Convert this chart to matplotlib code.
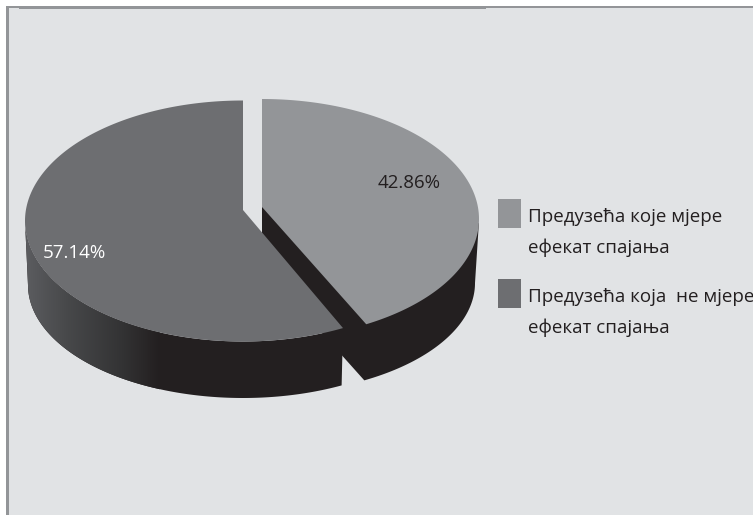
import numpy as np
import matplotlib
matplotlib.use('Agg')
import matplotlib.pyplot as plt
from matplotlib.colors import LinearSegmentedColormap
from matplotlib.patches import Polygon, Rectangle

# --- Data ---
legend_lines = [["Предузећа које мјере", "ефекат спајања"],
                ["Предузећа која  не мјере", "ефекат спајања"]]
shares = [42.86, 57.14]

LIGHT = '#939598'
DARK = '#6d6e71'
BLACK = '#231f20'
BG = '#e1e3e5'
FRAME = '#939598'
FONT_SIZE = 13.5

plt.rcParams['font.family'] = ['Open Sans', 'DejaVu Sans']


# points on an ellipse, angle runs clockwise from the top
def arc(cx, cy, rx, ry, a0, a1, n=200):
    t = np.radians(np.linspace(a0, a1, n))
    return np.column_stack([cx + rx * np.sin(t), cy - ry * np.cos(t)])


cut = shares[0] * 3.6

# the picture is in perspective, so the cut lands a bit off the true angle
cut_dark = cut - 1.6
cut_light = cut - 3.0

# pixel axes, same size as the picture
fig = plt.figure(figsize=(7.53, 5.15), dpi=100, facecolor='white')
ax = fig.add_axes([0, 0, 1, 1])
ax.axis('off')

# --- Panel and frame ---
ax.add_patch(Rectangle((7, 7), 746, 508, fc=BG, ec='none'))
ax.add_patch(Rectangle((6.5, 6), 2.5, 509, fc=FRAME, ec='none'))
ax.add_patch(Rectangle((7, 6), 746, 1.6, fc=FRAME, ec='none'))
ax.add_patch(Rectangle((19, 6), 467, 3, fc=FRAME, ec='none'))

# --- Light slice: cut face and side wall in one piece, then the top ---
top_l = (262, 219, 217, 120)
bot_l = (262, 283, 213, 111)
under_l = np.vstack([[(262, 207)], arc(*top_l, 92, 92, 1), arc(*bot_l, 90, cut_light), [(262, 266)]])
ax.add_patch(Polygon(under_l, fc=BLACK, ec='none'))
face_l = np.vstack([[(262, 207)], arc(*top_l, 0, cut_light)])
ax.add_patch(Polygon(face_l, fc=LIGHT, ec='none'))

# --- Dark slice: side wall with gradient, top ---
top_d = (243, 221, 218, 120.5)
bot_d = (243, 285, 215, 113)
wall_d = np.vstack([arc(*top_d, cut_dark, 270), arc(*bot_d, 270, cut_dark)])
wall_patch = Polygon(wall_d, fc=BLACK, ec='none')
ax.add_patch(wall_patch)
cmap = LinearSegmentedColormap.from_list('wall', [(0, '#5c5d60'), (0.3, '#48494b'),
                                                  (0.72, '#333334'), (1, BLACK)])
grad = ax.imshow(np.linspace(0, 1, 256)[None, :], cmap=cmap, extent=(25, 160, 400, 200),
                 aspect='auto', zorder=1.5)
grad.set_clip_path(wall_patch)
face_d = np.vstack([[(243, 210)], arc(*top_d, cut_dark, 360)])
ax.add_patch(Polygon(face_d, fc=DARK, ec='none', zorder=2))

# --- Labels ---
ax.text(409, 183, f"{shares[0]:.2f}%", fontsize=FONT_SIZE, color=BLACK, ha='center', va='center', zorder=3)
ax.text(74, 253, f"{shares[1]:.2f}%", fontsize=FONT_SIZE, color='white', ha='center', va='center', zorder=3)

# --- Legend ---
for i, (lines, col) in enumerate(zip(legend_lines, [LIGHT, DARK])):
    y0 = 199 + i * 80
    ax.add_patch(Rectangle((498, y0), 23, 29, fc=col, ec='none'))
    ax.text(528, y0 + 23, lines[0], fontsize=FONT_SIZE, color=BLACK, va='baseline', clip_on=True)
    ax.text(528, y0 + 54, lines[1], fontsize=FONT_SIZE, color=BLACK, va='baseline', clip_on=True)

ax.set_xlim(0, 753)
ax.set_ylim(515, 0)
fig.savefig('out.png', dpi=100, facecolor='white')
